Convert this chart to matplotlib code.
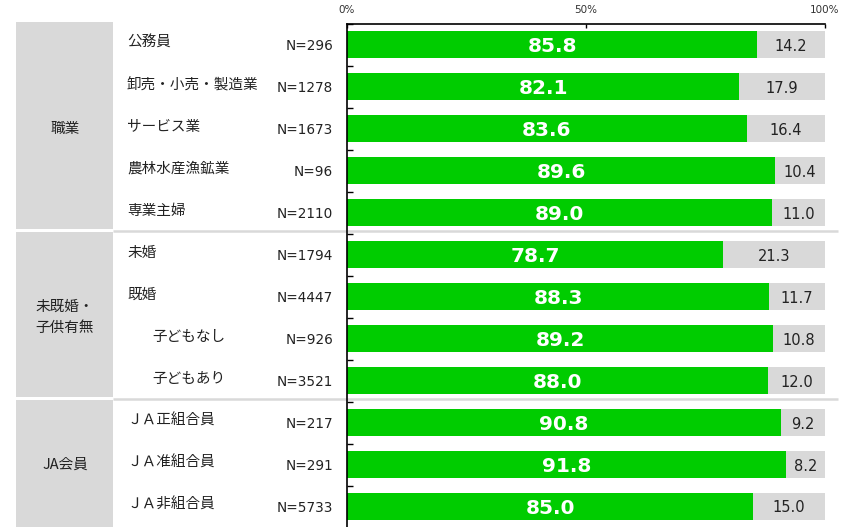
import matplotlib
matplotlib.use("Agg")
import matplotlib.pyplot as plt
from matplotlib import transforms
from matplotlib.patches import Rectangle

plt.rcParams['font.family'] = ['Noto Sans CJK JP', 'DejaVu Sans']

# data
categories = ["公務員", "卸売・小売・製造業", "サービス業", "農林水産漁鉱業", "専業主婦",
              "未婚", "既婚", "子どもなし", "子どもあり",
              "ＪＡ正組合員", "ＪＡ准組合員", "ＪＡ非組合員"]
indented = [False, False, False, False, False, False, False, True, True, False, False, False]
n_labels = ["N=296", "N=1278", "N=1673", "N=96", "N=2110", "N=1794", "N=4447",
            "N=926", "N=3521", "N=217", "N=291", "N=5733"]
yes_vals = [85.8, 82.1, 83.6, 89.6, 89.0, 78.7, 88.3, 89.2, 88.0, 90.8, 91.8, 85.0]
no_vals = [14.2, 17.9, 16.4, 10.4, 11.0, 21.3, 11.7, 10.8, 12.0, 9.2, 8.2, 15.0]
groups = [(["職業"], 5), (["未既婚・", "子供有無"], 4), (["JA会員"], 3)]
xticks = [0, 50, 100]
xticklabels = ["0%", "50%", "100%"]

GREEN = "#00cc00"
GRAY = "#d9d9d9"
W, H = 853, 527

fig = plt.figure(figsize=(W / 100, H / 100), dpi=100)

# overlay axes in pixel coordinates
bg = fig.add_axes([0, 0, 1, 1])
bg.set_xlim(0, W)
bg.set_ylim(H, 0)
bg.axis("off")

# bar axes: 0% at x=347, 100% at x=825, rows every 42px starting at 44.5
top_px, step = 23.5, 42
n = len(categories)
bot_px = top_px + step * n
ax = fig.add_axes([347 / W, 1 - bot_px / H, (825 - 347) / W, (bot_px - top_px) / H])
ax.set_xlim(0, 100)
ax.set_ylim(n - 0.5, -0.5)
ax.patch.set_alpha(0)

ypos = list(range(n))
ax.barh(ypos, yes_vals, height=0.66, color=GREEN, edgecolor="none")
ax.barh(ypos, no_vals, left=yes_vals, height=0.66, color=GRAY, edgecolor="none")

for y, v, w in zip(ypos, yes_vals, no_vals):
    ax.text(v / 2, y, f"{v:.1f}", ha="center", va="center_baseline", color="white",
            fontsize=14.5, fontweight="bold", family="DejaVu Sans")
    ax.text(v + w / 2, y, f"{w:.1f}", ha="center", va="center_baseline", color="#222222",
            fontsize=10.5, family="DejaVu Sans")

for side in ["right", "bottom"]:
    ax.spines[side].set_visible(False)
ax.spines["left"].set_linewidth(1.2)
ax.spines["top"].set_linewidth(1.2)
ax.set_yticks([i - 0.5 for i in range(n + 1)])
ax.set_yticklabels([])
ax.tick_params(axis="y", direction="in", length=4, width=1)
ax.xaxis.tick_top()
ax.set_xticks(xticks)
ax.set_xticklabels(xticklabels, fontsize=7.5, color="#333333", family="DejaVu Sans")
ax.tick_params(axis="x", direction="in", length=3, width=1, pad=6)

# labels: x in pixels, y in bar rows
tr = transforms.blended_transform_factory(bg.transData, ax.transData)
for y, cat, ind, nl in zip(ypos, categories, indented, n_labels):
    ax.text(152 if ind else 127, y - 0.04, cat, transform=tr, ha="left", va="center",
            fontsize=10.5, color="#222222")
    ax.text(333, y + 0.03, nl, transform=tr, ha="right", va="center",
            fontsize=9.8, color="#222222", family="DejaVu Sans")

# group boxes and separators
start = 0
for i, (lines, count) in enumerate(groups):
    y0 = start - 0.5 - 0.06
    y1 = start + count - 0.5 - 0.06
    if i == len(groups) - 1:
        y1 = n
    box = Rectangle((16, y0 + 0.025), 97, (y1 - y0) - 0.07, transform=tr,
                    facecolor=GRAY, edgecolor="none", clip_on=False, zorder=0)
    bg.add_patch(box)
    mid = start + (count - 1) / 2
    off = (len(lines) - 1) / 2
    for k, line in enumerate(lines):
        ax.text(65, mid + (k - off) * 0.52, line, transform=tr, ha="center", va="center",
                fontsize=10.5, color="#222222")
    if i > 0:
        bg.plot([113, 838], [y0, y0], transform=tr, color=GRAY, lw=1.8,
                solid_capstyle="butt", zorder=0)
    start += count

fig.savefig("out.png", dpi=100)
